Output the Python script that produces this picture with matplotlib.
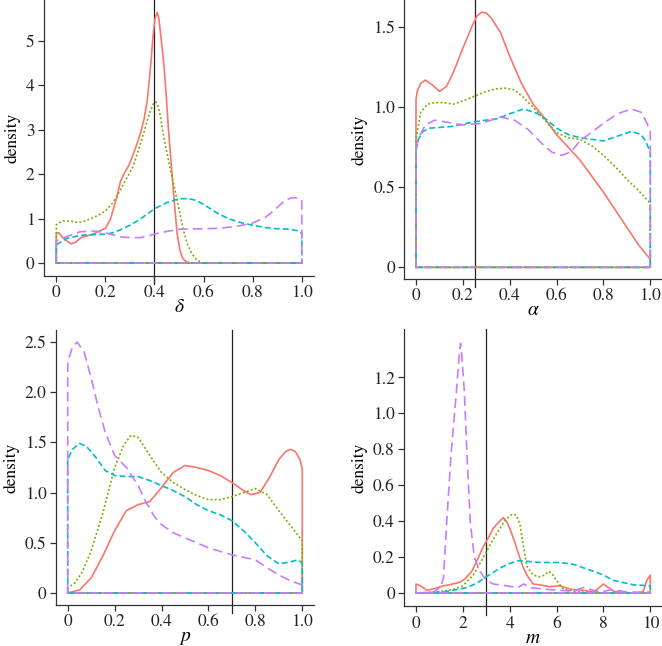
import matplotlib
matplotlib.use("Agg")
import matplotlib.pyplot as plt

plt.rcParams['font.family'] = ['STIXGeneral', 'DejaVu Serif']
plt.rcParams['mathtext.fontset'] = 'stix'
plt.rcParams['lines.scale_dashes'] = False

# colours / styles of the four posterior densities
colors = ['#F8766D', '#7CAE00', '#00BFC4', '#C77CFF']
dashes = [None, (1.4, 1.6), (4.3, 2.2), (7.0, 3.6)]

# ---- panel 1: delta ----
d_red_x = [0, 0.01, 0.03, 0.06, 0.08, 0.1, 0.15, 0.2, 0.22, 0.245, 0.262, 0.28, 0.296, 0.317,
           0.33, 0.343, 0.358, 0.371, 0.384, 0.394, 0.402, 0.411, 0.418, 0.424, 0.439, 0.449,
           0.458, 0.469, 0.48, 0.492, 0.503, 0.515, 0.53, 0.545, 0.6, 0.8, 1.0]
d_red_y = [0.67, 0.68, 0.55, 0.43, 0.47, 0.57, 0.65, 0.78, 0.98, 1.45, 1.85, 2.05, 2.2, 2.5,
           2.7, 2.92, 3.25, 3.67, 4.42, 5.1, 5.5, 5.64, 5.5, 5.2, 4.42, 3.67,
           2.92, 2.17, 1.42, 0.67, 0.3, 0.1, 0.03, 0.0, 0.0, 0.0, 0.0]
d_oli_x = [0, 0.027, 0.06, 0.088, 0.12, 0.15, 0.18, 0.204, 0.225, 0.245, 0.262, 0.279, 0.296,
           0.313, 0.335, 0.356, 0.37, 0.385, 0.395, 0.405, 0.415, 0.425, 0.435, 0.448,
           0.462, 0.477, 0.492, 0.507, 0.521, 0.536, 0.551, 0.568, 0.585, 0.6, 0.8, 1.0]
d_oli_y = [0.86, 0.95, 0.94, 0.91, 0.95, 1.02, 1.1, 1.19, 1.32, 1.49, 1.65, 1.83, 2.0,
           2.17, 2.55, 2.92, 3.2, 3.45, 3.58, 3.63, 3.52, 3.28, 2.92, 2.55,
           2.17, 1.8, 1.42, 1.02, 0.67, 0.4, 0.22, 0.09, 0.03, 0.0, 0.0, 0.0]
d_tea_x = [0, 0.042, 0.096, 0.163, 0.204, 0.23, 0.258, 0.3, 0.34, 0.37, 0.4, 0.45, 0.49, 0.517,
           0.545, 0.57, 0.6, 0.65, 0.7, 0.75, 0.8, 0.85, 0.9, 0.95, 0.98, 1.0]
d_tea_y = [0.41, 0.55, 0.62, 0.64, 0.65, 0.68, 0.74, 0.85, 0.98, 1.1, 1.22, 1.36, 1.43, 1.45,
           1.44, 1.41, 1.32, 1.14, 1.0, 0.91, 0.85, 0.8, 0.77, 0.76, 0.73, 0.67]
d_pur_x = [0, 0.042, 0.096, 0.143, 0.17, 0.204, 0.24, 0.27, 0.312, 0.34, 0.37, 0.4, 0.45, 0.503,
           0.6, 0.667, 0.75, 0.8, 0.85, 0.88, 0.91, 0.935, 0.96, 0.985, 1.0]
d_pur_y = [0.5, 0.59, 0.7, 0.72, 0.71, 0.67, 0.62, 0.58, 0.57, 0.57, 0.6, 0.65, 0.71, 0.76,
           0.77, 0.78, 0.84, 0.9, 1.02, 1.15, 1.3, 1.42, 1.47, 1.46, 1.4]

# ---- panel 2: alpha ----
a_red_x = [0, 0.005, 0.02, 0.04, 0.07, 0.1, 0.13, 0.16, 0.2, 0.24, 0.26, 0.28, 0.3, 0.32,
           0.36, 0.4, 0.45, 0.5, 0.55, 0.6, 0.7, 0.8, 0.9, 0.95, 1.0]
a_red_y = [1.05, 1.1, 1.15, 1.17, 1.14, 1.1, 1.13, 1.22, 1.37, 1.51, 1.57, 1.595, 1.59, 1.56,
           1.47, 1.32, 1.15, 1.02, 0.93, 0.83, 0.67, 0.47, 0.25, 0.14, 0.05]
a_oli_x = [0, 0.02, 0.05, 0.08, 0.12, 0.16, 0.2, 0.25, 0.3, 0.34, 0.38, 0.42, 0.46, 0.5, 0.55,
           0.6, 0.65, 0.7, 0.75, 0.8, 0.85, 0.9, 0.95, 1.0]
a_oli_y = [0.8, 0.97, 1.02, 1.03, 1.03, 1.02, 1.04, 1.07, 1.1, 1.115, 1.12, 1.11, 1.06, 1.0,
           0.92, 0.84, 0.81, 0.8, 0.76, 0.7, 0.63, 0.55, 0.48, 0.4]
a_tea_x = [0, 0.01, 0.03, 0.06, 0.15, 0.25, 0.35, 0.4, 0.46, 0.52, 0.56, 0.6, 0.65, 0.7, 0.75,
           0.8, 0.86, 0.92, 0.96, 0.98, 1.0]
a_tea_y = [0.73, 0.8, 0.85, 0.87, 0.88, 0.91, 0.93, 0.96, 0.99, 0.96, 0.92, 0.87, 0.83, 0.81,
           0.8, 0.79, 0.82, 0.85, 0.83, 0.79, 0.72]
a_pur_x = [0, 0.015, 0.04, 0.08, 0.12, 0.2, 0.28, 0.36, 0.42, 0.48, 0.54, 0.58, 0.62, 0.66,
           0.7, 0.8, 0.86, 0.92, 0.96, 0.98, 1.0]
a_pur_y = [0.75, 0.82, 0.89, 0.92, 0.91, 0.89, 0.9, 0.94, 0.92, 0.86, 0.77, 0.72, 0.7, 0.72,
           0.79, 0.9, 0.96, 0.99, 0.97, 0.92, 0.85]

# ---- panel 3: p ----
p_red_x = [0, 0.05, 0.1, 0.15, 0.2, 0.25, 0.3, 0.35, 0.4, 0.45, 0.5, 0.55, 0.6, 0.65, 0.7, 0.75,
           0.78, 0.82, 0.86, 0.9, 0.93, 0.95, 0.97, 0.99, 1.0]
p_red_y = [0.0, 0.03, 0.15, 0.37, 0.62, 0.82, 0.88, 0.91, 1.05, 1.2, 1.27, 1.25, 1.22, 1.17,
           1.1, 1.02, 0.98, 1.0, 1.15, 1.33, 1.41, 1.43, 1.41, 1.33, 1.23]
p_oli_x = [0, 0.03, 0.06, 0.1, 0.15, 0.2, 0.24, 0.27, 0.3, 0.35, 0.4, 0.45, 0.5, 0.55, 0.6,
           0.65, 0.7, 0.75, 0.8, 0.85, 0.9, 0.95, 1.0]
p_oli_y = [0.05, 0.1, 0.2, 0.42, 0.8, 1.25, 1.48, 1.57, 1.55, 1.37, 1.2, 1.1, 1.03, 0.97, 0.93,
           0.93, 0.96, 1.0, 1.04, 0.98, 0.82, 0.67, 0.52]
p_tea_x = [0, 0.02, 0.05, 0.08, 0.12, 0.16, 0.2, 0.25, 0.3, 0.35, 0.4, 0.45, 0.5, 0.55, 0.6,
           0.65, 0.7, 0.75, 0.8, 0.85, 0.9, 0.95, 0.98, 1.0]
p_tea_y = [1.33, 1.43, 1.49, 1.46, 1.35, 1.22, 1.17, 1.16, 1.16, 1.12, 1.07, 1.02, 0.96, 0.88,
           0.82, 0.78, 0.72, 0.62, 0.5, 0.37, 0.29, 0.31, 0.33, 0.3]
p_pur_x = [0, 0.02, 0.04, 0.07, 0.1, 0.13, 0.16, 0.2, 0.25, 0.3, 0.33, 0.37, 0.4, 0.45, 0.5,
           0.6, 0.7, 0.8, 0.85, 0.9, 0.95, 1.0]
p_pur_y = [2.3, 2.45, 2.5, 2.4, 2.14, 1.85, 1.6, 1.37, 1.25, 1.07, 0.92, 0.76, 0.68, 0.6, 0.55,
           0.45, 0.38, 0.33, 0.25, 0.18, 0.12, 0.08]

# ---- panel 4: m ----
m_red_x = [0, 0.2, 0.46, 0.8, 1.17, 1.5, 1.88, 2.1, 2.38, 2.6, 2.88, 3.1, 3.3, 3.5, 3.73, 3.9,
           4.0, 4.2, 4.37, 4.55, 4.73, 5.0, 5.3, 5.7, 6.15, 6.6, 7.15, 7.6, 8.0, 8.43, 9.0,
           9.5, 9.7, 9.85, 10]
m_red_y = [0.05, 0.04, 0.015, 0.025, 0.04, 0.048, 0.06, 0.08, 0.12, 0.18, 0.26, 0.31, 0.36,
           0.39, 0.42, 0.39, 0.36, 0.29, 0.22, 0.15, 0.1, 0.05, 0.045, 0.035, 0.04, 0.02,
           0.015, 0.005, 0.05, 0.01, 0.0, 0.0, 0.01, 0.07, 0.1]
m_oli_x = [0, 0.5, 1.17, 1.6, 2.0, 2.45, 2.88, 3.3, 3.73, 4.0, 4.16, 4.3, 4.44, 4.6, 4.73,
           5.0, 5.3, 5.5, 5.66, 5.8, 5.94, 6.3, 7.0, 8.0, 9.0, 10]
m_oli_y = [0, 0.002, 0.01, 0.02, 0.04, 0.1, 0.2, 0.3, 0.39, 0.43, 0.44, 0.43, 0.38, 0.25,
           0.15, 0.1, 0.09, 0.1, 0.12, 0.11, 0.08, 0.02, 0.005, 0.0, 0.0, 0.0]
m_tea_x = [0, 1.17, 2.17, 2.6, 3.0, 3.6, 4.0, 4.37, 5.3, 6.15, 6.7, 7.15, 7.6, 8.0, 8.43,
           9.3, 10]
m_tea_y = [0, 0.005, 0.03, 0.055, 0.09, 0.14, 0.165, 0.18, 0.17, 0.17, 0.16, 0.14, 0.12,
           0.1, 0.07, 0.045, 0.04]
m_pur_x = [0, 0.74, 1.03, 1.17, 1.31, 1.49, 1.73, 1.85, 1.9, 1.95, 2.06, 2.18, 2.32, 2.49,
           2.73, 3.0, 3.3, 3.87, 4.33, 4.6, 4.87, 5.6, 6.7, 7.15, 7.86, 8.4, 9.0, 10]
m_pur_y = [0, 0.005, 0.03, 0.08, 0.39, 0.76, 1.13, 1.33, 1.39, 1.33, 1.13, 0.76, 0.39, 0.2,
           0.12, 0.07, 0.05, 0.04, 0.03, 0.05, 0.03, 0.02, 0.01, 0.03, 0.005, 0.02, 0.005, 0.005]

true_vals = [0.4, 0.25, 0.7, 3.0]
xlabels = ['\u03b4', '\u03b1', 'p', 'm']

panels = [
    [(d_red_x, d_red_y), (d_oli_x, d_oli_y), (d_tea_x, d_tea_y), (d_pur_x, d_pur_y)],
    [(a_red_x, a_red_y), (a_oli_x, a_oli_y), (a_tea_x, a_tea_y), (a_pur_x, a_pur_y)],
    [(p_red_x, p_red_y), (p_oli_x, p_oli_y), (p_tea_x, p_tea_y), (p_pur_x, p_pur_y)],
    [(m_red_x, m_red_y), (m_oli_x, m_oli_y), (m_tea_x, m_tea_y), (m_pur_x, m_pur_y)],
]

# axes rectangles, limits and ticks
rects = [[0.0665, 0.5728, 0.4079, 0.4272],
         [0.6107, 0.5681, 0.3893, 0.4319],
         [0.0846, 0.0639, 0.3897, 0.4253],
         [0.6107, 0.0615, 0.3893, 0.4292]]
xlims = [(-0.05, 1.05), (-0.05, 1.05), (-0.05, 1.05), (-0.5, 10.5)]
ylims = [(-0.293, 5.92), (-0.073, 1.671), (-0.117, 2.62), (-0.074, 1.47)]
xticks = [[0, 0.2, 0.4, 0.6, 0.8, 1.0]] * 3 + [[0, 2, 4, 6, 8, 10]]
xticklabels = [['0', '0.2', '0.4', '0.6', '0.8', '1.0']] * 3 + [['0', '2', '4', '6', '8', '10']]
yticks = [[0, 1, 2, 3, 4, 5], [0, 0.5, 1.0, 1.5], [0, 0.5, 1.0, 1.5, 2.0, 2.5],
          [0, 0.2, 0.4, 0.6, 0.8, 1.0, 1.2]]
yticklabels = [['0', '1', '2', '3', '4', '5'], ['0', '0.5', '1.0', '1.5'],
               ['0', '0.5', '1.0', '1.5', '2.0', '2.5'],
               ['0', '0.2', '0.4', '0.6', '0.8', '1.0', '1.2']]

fig = plt.figure(figsize=(6.62, 6.46), dpi=100)
axc = '#333333'

for i in range(4):
    ax = fig.add_axes(rects[i])
    ax.axvline(true_vals[i], ymin=-0.03, ymax=1, color='#222222', lw=0.9,
               clip_on=False, zorder=1)
    for (xs, ys), c, d in zip(panels[i], colors, dashes):
        # closed outline: up from the baseline, along the density, back along zero
        px = [xs[0]] + list(xs) + [xs[-1], xs[0]]
        py = [0] + list(ys) + [0, 0]
        line, = ax.plot(px, py, color=c, lw=1.2, zorder=2, solid_joinstyle='round')
        if d is not None:
            line.set_dashes(d)
    ax.set_xlim(xlims[i])
    ax.set_ylim(ylims[i])
    ax.set_xticks(xticks[i])
    ax.set_xticklabels(xticklabels[i])
    ax.set_yticks(yticks[i])
    ax.set_yticklabels(yticklabels[i])
    for s in ['top', 'right']:
        ax.spines[s].set_visible(False)
    for s in ['left', 'bottom']:
        ax.spines[s].set_color(axc)
        ax.spines[s].set_linewidth(0.9)
    ax.tick_params(direction='out', length=4.3, width=0.9, color=axc,
                   labelsize=12.5, labelcolor='#222222', pad=2.5)
    ax.set_xlabel(xlabels[i], fontsize=14, fontstyle='italic', labelpad=-2.5)
    ax.set_ylabel('density', fontsize=12.5, labelpad=4)
    ax.patch.set_alpha(0)

fig.savefig('out.png', dpi=100)
